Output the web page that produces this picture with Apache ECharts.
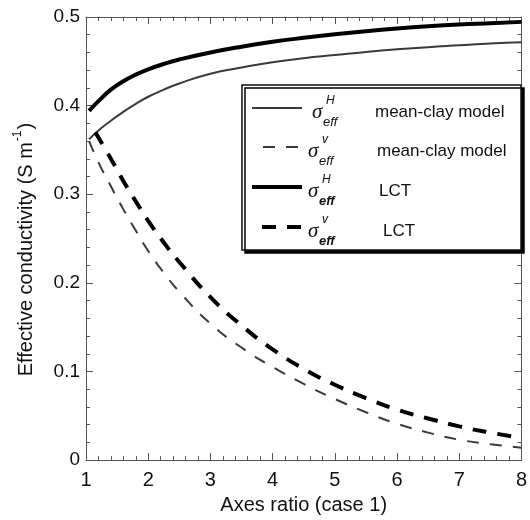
<!DOCTYPE html>
<html>
<head>
<meta charset="utf-8">
<script src="https://cdn.jsdelivr.net/npm/echarts@6/dist/echarts.min.js"></script>
<style>html,body{margin:0;padding:0;background:#fff}#c{width:530px;height:520px}</style>
</head>
<body>
<div id="c"></div>
<script>
// ---- data ----
const xTicks = [1, 2, 3, 4, 5, 6, 7, 8];
const yTicks = [0, 0.1, 0.2, 0.3, 0.4, 0.5];

const xLctH = [1.05, 1.2, 1.4, 1.6, 1.8, 2, 2.25, 2.5, 3, 3.5, 4, 4.5, 5, 5.5, 6, 6.5, 7, 7.5, 8];
const yLctH = [0.394, 0.405, 0.418, 0.4275, 0.435, 0.441, 0.447, 0.452, 0.460, 0.4665, 0.472, 0.4765, 0.4805, 0.484, 0.487, 0.4895, 0.4915, 0.493, 0.4945];

const xMcH = [1.05, 1.2, 1.4, 1.6, 1.8, 2, 2.25, 2.5, 3, 3.5, 4, 4.5, 5, 5.5, 6, 6.5, 7, 7.5, 8];
const yMcH = [0.362, 0.372, 0.383, 0.393, 0.402, 0.410, 0.418, 0.425, 0.436, 0.443, 0.449, 0.4535, 0.457, 0.4605, 0.4635, 0.466, 0.468, 0.470, 0.4715];

const xLctV = [1.15, 1.4, 1.6, 1.8, 2, 2.25, 2.5, 3, 3.5, 4, 4.5, 5, 5.5, 6, 6.5, 7, 7.5, 8];
const yLctV = [0.370, 0.340, 0.315, 0.292, 0.270, 0.2455, 0.2235, 0.184, 0.152, 0.125, 0.103, 0.085, 0.070, 0.057, 0.047, 0.038, 0.031, 0.025];

const xMcV = [1.05, 1.2, 1.4, 1.6, 1.8, 2, 2.25, 2.5, 3, 3.5, 4, 4.5, 5, 5.5, 6, 6.5, 7, 7.5, 8];
const yMcV = [0.360, 0.336, 0.309, 0.283, 0.259, 0.236, 0.2115, 0.190, 0.154, 0.127, 0.105, 0.086, 0.069, 0.054, 0.041, 0.031, 0.023, 0.018, 0.014];

const legendNames = ['mean-clay model', 'mean-clay model', 'LCT', 'LCT'];
const legendSup = ['H', 'v', 'H', 'v'];

const xName = 'Axes ratio (case 1)';
const yNameMain = 'Effective conductivity (S m';
const yNameSup = '-1';

// ---- build ----
const pairs = (xs, ys) => xs.map((x, i) => [x, ys[i]]);
const FONT = 'Liberation Sans, Arial, sans-serif';
const axisColor = '#555';

const chart = echarts.init(document.getElementById('c'), null, {renderer: 'canvas'});

const baseX = {
  type: 'value', min: 1, max: 8, interval: 1,
  axisLine: {show: true, onZero: false, lineStyle: {color: axisColor, width: 1}},
  axisTick: {show: true, inside: true, length: 7, lineStyle: {color: axisColor}},
  minorTick: {show: true, splitNumber: 5, length: 4, lineStyle: {color: axisColor}},
  splitLine: {show: false}, minorSplitLine: {show: false}
};
const baseY = {
  type: 'value', min: 0, max: 0.5, interval: 0.1,
  axisLine: {show: true, onZero: false, lineStyle: {color: axisColor, width: 1}},
  axisTick: {show: true, inside: true, length: 7, lineStyle: {color: axisColor}},
  minorTick: {show: true, splitNumber: 5, length: 4, lineStyle: {color: axisColor}},
  splitLine: {show: false}, minorSplitLine: {show: false}
};

function legendGraphics() {
  const g = [];
  const rowY = [108, 147, 187, 227];
  const left = 242, top = 85, right = 521, bottom = 250;
  g.push({
    type: 'rect', z: 100,
    shape: {x: left, y: top, width: right - left, height: bottom - top},
    style: {fill: '#fff', stroke: '#111', lineWidth: 1.5,
      shadowColor: '#000', shadowOffsetX: 3, shadowOffsetY: 3, shadowBlur: 0}
  });
  const lineStyles = [
    {stroke: '#3a3a3a', lineWidth: 2, x1: 252},
    {stroke: '#3a3a3a', lineWidth: 2, x1: 263, lineDash: [12, 11]},
    {stroke: '#000', lineWidth: 4, x1: 252},
    {stroke: '#000', lineWidth: 4, x1: 262, lineDash: [14, 11]}
  ];
  lineStyles.forEach((ls, i) => {
    g.push({
      type: 'line', z: 101,
      shape: {x1: ls.x1, y1: rowY[i], x2: 302, y2: rowY[i]},
      style: {stroke: ls.stroke, lineWidth: ls.lineWidth, lineDash: ls.lineDash || null}
    });
  });
  const sigX = [312, 308, 308, 308];
  const txtX = [375, 377, 379, 383];
  legendNames.forEach((name, i) => {
    const bold = i >= 2;
    const cy = rowY[i] + 4;
    g.push({type: 'text', z: 102, x: sigX[i], y: cy,
      style: {text: 'σ', font: 'italic 21px "Liberation Serif", serif', fill: '#111', verticalAlign: 'middle'}});
    g.push({type: 'text', z: 102, x: sigX[i] + 14, y: cy - 11,
      style: {text: legendSup[i], font: 'italic 12px ' + FONT, fill: '#111', verticalAlign: 'middle'}});
    g.push({type: 'text', z: 102, x: sigX[i] + 11, y: cy + 10,
      style: {text: 'eff', font: 'italic ' + (bold ? 'bold ' : '') + '13px ' + FONT, fill: '#111', verticalAlign: 'middle'}});
    g.push({type: 'text', z: 102, x: txtX[i], y: cy,
      style: {text: name, font: '17px ' + FONT, fill: '#111', verticalAlign: 'middle'}});
  });
  return g;
}

const option = {
  backgroundColor: '#fff',
  animation: false,
  grid: {left: 86, right: 1, top: 17, bottom: 58, containLabel: false},
  xAxis: [
    Object.assign({}, baseX, {
      position: 'bottom',
      name: xName, nameLocation: 'middle', nameGap: 25,
      nameTextStyle: {fontFamily: FONT, fontSize: 20, color: '#111'},
      axisLabel: {show: true, margin: 10, fontFamily: FONT, fontSize: 20, color: '#111',
        formatter: v => xTicks.includes(v) ? String(v) : ''}
    }),
    Object.assign({}, baseX, {position: 'top', axisLabel: {show: false}})
  ],
  yAxis: [
    Object.assign({}, baseY, {
      position: 'left',
      name: '{m|' + yNameMain + '}{s|' + yNameSup + '}{m|)}',
      nameLocation: 'middle', nameGap: 50,
      nameTextStyle: {
        fontFamily: FONT, fontSize: 20, color: '#111',
        padding: [0, 22, 0, 0],
        rich: {
          m: {fontFamily: FONT, fontSize: 20, color: '#111', lineHeight: 24, verticalAlign: 'bottom'},
          s: {fontFamily: FONT, fontSize: 12, color: '#111', lineHeight: 24, verticalAlign: 'top', padding: [0, 1, 0, 1]}
        }
      },
      axisLabel: {show: true, margin: 6, fontFamily: FONT, fontSize: 19, color: '#111',
        formatter: v => {
          const hit = yTicks.find(t => Math.abs(t - v) < 1e-9);
          return hit === undefined ? '' : (hit === 0 ? '0' : hit.toFixed(1));
        }}
    }),
    Object.assign({}, baseY, {position: 'right', axisLabel: {show: false}})
  ],
  series: [
    {type: 'line', name: 'mean-clay H', data: pairs(xMcH, yMcH), smooth: true, showSymbol: false,
      lineStyle: {color: '#3a3a3a', width: 2}, z: 3},
    {type: 'line', name: 'mean-clay V', data: pairs(xMcV, yMcV), smooth: true, showSymbol: false,
      lineStyle: {color: '#3a3a3a', width: 2, type: [12, 11]}, z: 3},
    {type: 'line', name: 'LCT H', data: pairs(xLctH, yLctH), smooth: true, showSymbol: false,
      lineStyle: {color: '#000', width: 4}, z: 4},
    {type: 'line', name: 'LCT V', data: pairs(xLctV, yLctV), smooth: true, showSymbol: false,
      lineStyle: {color: '#000', width: 4, type: [14, 11]}, z: 4}
  ],
  graphic: legendGraphics()
};
chart.setOption(option);
</script>
</body>
</html>
